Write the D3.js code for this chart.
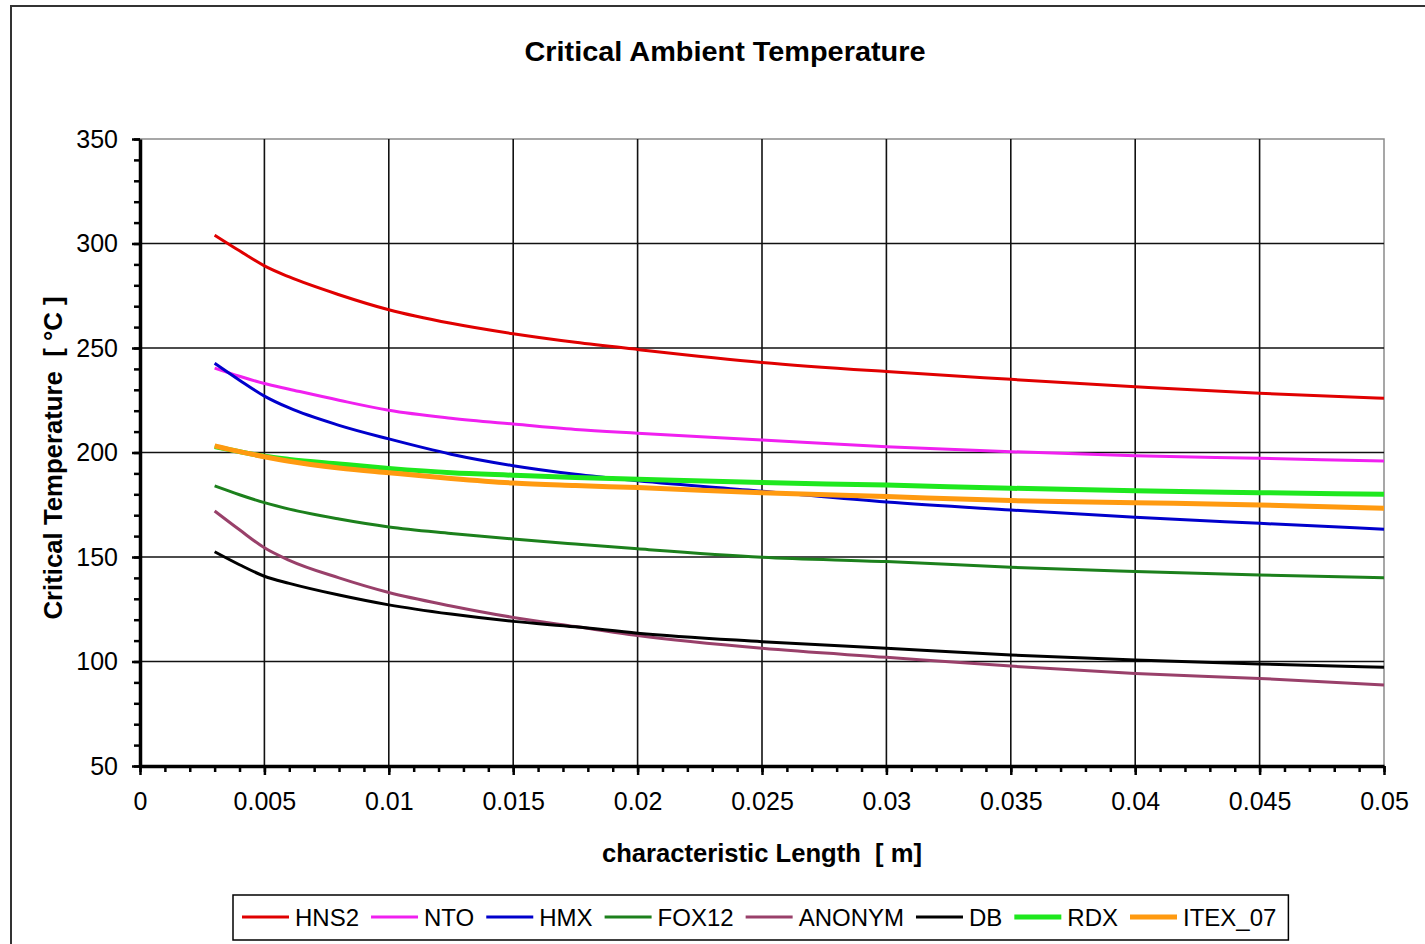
<!DOCTYPE html>
<html>
<head>
<meta charset="utf-8">
<script src="https://cdn.jsdelivr.net/npm/d3@7"></script>
<style>
  html, body { margin: 0; padding: 0; background: #fff; }
  svg { display: block; }
  text { font-family: "Liberation Sans", Arial, sans-serif; fill: #000; white-space: pre; }
</style>
</head>
<body>
<svg id="chart" width="1425" height="944"></svg>
<script>
// Characteristic length [m] at which each curve is sampled
const lengths = [0.003, 0.004, 0.005, 0.006, 0.008, 0.01, 0.0125, 0.015, 0.0175, 0.02, 0.025, 0.03, 0.035, 0.04, 0.045, 0.05];

// Critical ambient temperature [°C] per material
const HNS2   = [304, 296.5, 289.3, 284, 275.5, 268.3, 261.8, 256.8, 252.7, 249.3, 243.1, 238.7, 235, 231.5, 228.3, 225.9];
const NTO    = [240.4, 236.5, 233, 230.3, 225, 220.2, 216.4, 213.6, 211, 209.2, 206, 202.8, 200.4, 198.5, 197.2, 195.9];
const HMX    = [242.7, 234.6, 227, 221.3, 213, 206.5, 199.2, 193.7, 189.6, 186.5, 181.5, 176.3, 172.5, 169, 166.1, 163.3];
const FOX12  = [184, 179.8, 176, 172.9, 168.2, 164.4, 161.3, 158.6, 156.2, 153.9, 149.9, 147.8, 145.1, 143.1, 141.4, 140.1];
const ANONYM = [172, 163, 154.4, 148.4, 140, 133, 126.6, 121.1, 116.7, 112.4, 106.3, 102, 97.8, 94.3, 91.9, 88.8];
const DB     = [152.5, 146.3, 140.8, 137.4, 131.8, 127.1, 122.7, 119.2, 116.6, 113.5, 109.5, 106.3, 103.1, 100.7, 98.8, 97.2];
const RDX    = [202.8, 200.4, 198.2, 196.7, 194.5, 192.4, 190.3, 189.1, 188, 187.2, 185.6, 184.4, 182.9, 181.7, 180.8, 180];
const ITEX_07 = [203.2, 200.4, 198, 195.8, 192.6, 190.3, 187.6, 185.4, 184.2, 183.2, 180.8, 178.9, 177, 176, 174.9, 173.3];

const seriesNames = ["HNS2", "NTO", "HMX", "FOX12", "ANONYM", "DB", "RDX", "ITEX_07"];
const seriesValues = [HNS2, NTO, HMX, FOX12, ANONYM, DB, RDX, ITEX_07];
const seriesColors = ["#e00000", "#f020f0", "#0000cc", "#1c801c", "#99406a", "#000000", "#1ee81e", "#ff9a10"];
const seriesWidths = [3, 3, 3, 3, 3, 3, 5, 5];

// Axis ticks
const xTicks = [0, 0.005, 0.01, 0.015, 0.02, 0.025, 0.03, 0.035, 0.04, 0.045, 0.05];
const xTickLabels = ["0", "0.005", "0.01", "0.015", "0.02", "0.025", "0.03", "0.035", "0.04", "0.045", "0.05"];
const xMinorTicks = d3.range(0, 51).map(i => i / 1000);
const yTicks = [50, 100, 150, 200, 250, 300, 350];
const yTickLabels = ["50", "100", "150", "200", "250", "300", "350"];
const yMinorTicks = d3.range(50, 351, 10);

const titleText = "Critical Ambient Temperature";
const xTitle = "characteristic Length  [ m]";
const yTitle = "Critical Temperature  [ \u00B0C ]";

const svg = d3.select("#chart");
const plot = { left: 140, right: 1384, top: 139, bottom: 766 };

const x = d3.scaleLinear().domain([0, 0.05]).range([plot.left, plot.right]);
const y = d3.scaleLinear().domain([50, 350]).range([plot.bottom, plot.top]);

// Chart frame
svg.append("rect")
  .attr("x", 11).attr("y", 6)
  .attr("width", 1500).attr("height", 1000)
  .attr("fill", "#fff").attr("stroke", "#333").attr("stroke-width", 2);

// Title
svg.append("text")
  .attr("x", 725).attr("y", 61)
  .attr("text-anchor", "middle")
  .attr("font-size", 28).attr("font-weight", "bold")
  .attr("textLength", 401).attr("lengthAdjust", "spacingAndGlyphs")
  .text(titleText);

// Plot area border
svg.append("rect")
  .attr("x", plot.left).attr("y", plot.top)
  .attr("width", plot.right - plot.left).attr("height", plot.bottom - plot.top)
  .attr("fill", "#fff").attr("stroke", "#8a8a8a").attr("stroke-width", 1.5);

// Gridlines
const grid = svg.append("g").attr("stroke", "#111").attr("stroke-width", 1.6);
grid.selectAll("line.v").data(xTicks.filter(v => v > 0 && v < 0.05)).join("line")
  .attr("x1", d => x(d)).attr("x2", d => x(d))
  .attr("y1", plot.top).attr("y2", plot.bottom);
grid.selectAll("line.h").data(yTicks.filter(v => v > 50 && v < 350)).join("line")
  .attr("x1", plot.left).attr("x2", plot.right)
  .attr("y1", d => y(d)).attr("y2", d => y(d));

// Series lines
const line = d3.line()
  .x((d, i) => x(lengths[i]))
  .y(d => y(d))
  .curve(d3.curveMonotoneX);

svg.append("g").selectAll("path").data(seriesValues).join("path")
  .attr("d", d => line(d))
  .attr("fill", "none")
  .attr("stroke", (d, i) => seriesColors[i])
  .attr("stroke-width", (d, i) => seriesWidths[i])
  .attr("stroke-linejoin", "round");

// Minor ticks
svg.append("g")
  .attr("transform", `translate(0,${plot.bottom})`)
  .call(d3.axisBottom(x).tickValues(xMinorTicks).tickSize(6).tickFormat(""))
  .call(g => g.select(".domain").remove())
  .call(g => g.selectAll("line").attr("stroke", "#000").attr("stroke-width", 2.5));
svg.append("g")
  .attr("transform", `translate(${plot.left},0)`)
  .call(d3.axisLeft(y).tickValues(yMinorTicks).tickSize(6).tickFormat(""))
  .call(g => g.select(".domain").remove())
  .call(g => g.selectAll("line").attr("stroke", "#000").attr("stroke-width", 2.5));

// Major axes
svg.append("g")
  .attr("transform", `translate(0,${plot.bottom})`)
  .call(d3.axisBottom(x).tickValues(xTicks).tickSize(9).tickSizeOuter(0)
    .tickFormat((d, i) => xTickLabels[i]).tickPadding(17))
  .call(g => g.select(".domain").attr("stroke", "#000").attr("stroke-width", 3.5))
  .call(g => g.selectAll(".tick line").attr("stroke", "#000").attr("stroke-width", 2.5))
  .call(g => g.selectAll("text").attr("font-size", 25).attr("font-family", "Liberation Sans, Arial, sans-serif").attr("fill", "#111"));

svg.append("g")
  .attr("transform", `translate(${plot.left},0)`)
  .call(d3.axisLeft(y).tickValues(yTicks).tickSize(8).tickSizeOuter(0)
    .tickFormat((d, i) => yTickLabels[i]).tickPadding(14))
  .call(g => g.select(".domain").attr("stroke", "#000").attr("stroke-width", 3.5))
  .call(g => g.selectAll(".tick line").attr("stroke", "#000").attr("stroke-width", 2.5))
  .call(g => g.selectAll("text").attr("font-size", 25).attr("font-family", "Liberation Sans, Arial, sans-serif").attr("fill", "#111"));

// Axis titles
svg.append("text")
  .attr("x", 762).attr("y", 862)
  .attr("text-anchor", "middle")
  .attr("font-size", 26).attr("font-weight", "bold")
  .attr("textLength", 320).attr("lengthAdjust", "spacingAndGlyphs")
  .text(xTitle);

svg.append("text")
  .attr("transform", "translate(62,458) rotate(-90)")
  .attr("text-anchor", "middle")
  .attr("font-size", 26).attr("font-weight", "bold")
  .attr("textLength", 323).attr("lengthAdjust", "spacingAndGlyphs")
  .text(yTitle);

// Legend
const legend = svg.append("g");
const legendBox = legend.append("rect")
  .attr("y", 895).attr("height", 45)
  .attr("fill", "#fff").attr("stroke", "#000").attr("stroke-width", 1.5);
let cx = 242;
const legendY = 917;
seriesNames.forEach((name, i) => {
  legend.append("line")
    .attr("x1", cx).attr("x2", cx + 47)
    .attr("y1", legendY).attr("y2", legendY)
    .attr("stroke", seriesColors[i])
    .attr("stroke-width", seriesWidths[i]);
  const t = legend.append("text")
    .attr("x", cx + 53).attr("y", legendY + 9)
    .attr("font-size", 24).attr("fill", "#111")
    .text(name);
  const w = t.node().getComputedTextLength();
  cx += 53 + w + 12;
});
legendBox.attr("x", 233).attr("width", cx - 233);
</script>
</body>
</html>
